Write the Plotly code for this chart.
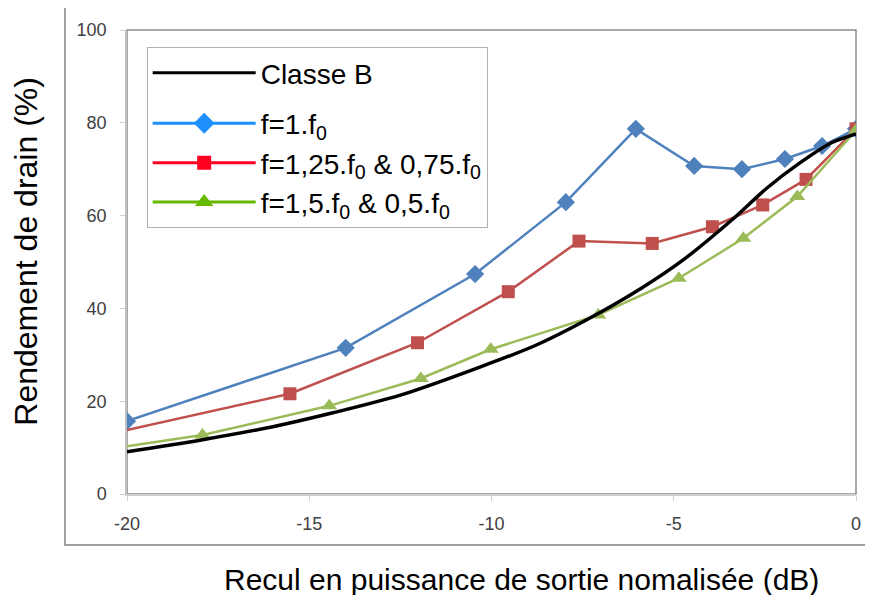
import plotly.graph_objects as go

# Classe B (theoretical curve)
classe_b_x = [-20, -18.0, -16.0, -14.35, -12.5, -10.3, -8.8, -7.4, -5.9, -4.75, -3.4, -2.45, -1.55, -0.7, 0]
classe_b_y = [9.1, 11.6, 14.5, 17.5, 21.3, 27.4, 32.0, 37.5, 44.3, 50.4, 59.1, 65.9, 71.3, 75.6, 77.6]

# f = 1.f0
f1_x = [-20, -14.0, -10.45, -7.96, -6.04, -4.44, -3.13, -1.95, -0.93, 0]
f1_y = [15.7, 31.5, 47.4, 62.9, 78.7, 70.7, 70.0, 72.2, 75.0, 78.7]

# f = 1,25.f0 & 0,75.f0
f125_x = [-20, -15.53, -12.03, -9.54, -7.60, -5.59, -3.94, -2.56, -1.37, 0]
f125_y = [13.8, 21.6, 32.6, 43.6, 54.5, 54.0, 57.6, 62.3, 67.8, 78.7]

# f = 1,5.f0 & 0,5.f0
f15_x = [-20, -17.93, -14.45, -11.94, -10.02, -7.07, -4.86, -3.09, -1.61, 0]
f15_y = [10.3, 12.7, 19.0, 24.9, 31.2, 38.6, 46.5, 55.1, 64.1, 78.4]

x_ticks = [-20, -15, -10, -5, 0]
x_labels = ['-20', '-15', '-10', '-5', '0']
y_ticks = [0, 20, 40, 60, 80, 100]

font_family = "Liberation Sans, Arial, sans-serif"

fig = go.Figure()

# plotted series (colors as in the chart body)
fig.add_trace(go.Scatter(x=f1_x, y=f1_y, mode='lines+markers', showlegend=False,
                         line=dict(color='#4F81BD', width=2.5),
                         marker=dict(symbol='diamond', size=14, color='#4F81BD', opacity=1)))
fig.add_trace(go.Scatter(x=f125_x, y=f125_y, mode='lines+markers', showlegend=False,
                         line=dict(color='#C0504D', width=2.5),
                         marker=dict(symbol='square', size=[0] + [13] * (len(f125_x) - 1),
                                     color='#C0504D', opacity=1, line=dict(width=0))))
fig.add_trace(go.Scatter(x=f15_x, y=f15_y, mode='lines+markers', showlegend=False,
                         line=dict(color='#9BBB59', width=2.5),
                         marker=dict(symbol='triangle-up', size=[0] + [14] * (len(f15_x) - 1),
                                     color='#9BBB59', opacity=1, line=dict(width=0))))
fig.add_trace(go.Scatter(x=classe_b_x, y=classe_b_y, mode='lines', showlegend=False,
                         line=dict(color='black', width=3.5, shape='spline', smoothing=0.8)))

# legend entries (brighter colors, as in the original legend)
fig.add_trace(go.Scatter(x=[None], y=[None], mode='lines', name='Classe B', legendgroup='b',
                         line=dict(color='black', width=3)))
fig.add_trace(go.Scatter(x=[None], y=[None], mode='lines+markers', name='f=1.f<sub>0</sub>', legendgroup='f',
                         line=dict(color='#1E8FFF', width=3),
                         marker=dict(symbol='diamond', size=17, color='#1E8FFF')))
fig.add_trace(go.Scatter(x=[None], y=[None], mode='lines+markers', name='f=1,25.f<sub>0</sub> &amp; 0,75.f<sub>0</sub>',
                         legendgroup='f', line=dict(color='#FF0022', width=3),
                         marker=dict(symbol='square', size=14, color='#FF0022')))
fig.add_trace(go.Scatter(x=[None], y=[None], mode='lines+markers', name='f=1,5.f<sub>0</sub> &amp; 0,5.f<sub>0</sub>',
                         legendgroup='f', line=dict(color='#66B800', width=3),
                         marker=dict(symbol='triangle-up', size=16, color='#66B800')))

# the page body has an 8px margin: size and margins compensate for it
fig.update_layout(
    width=865, height=587,
    margin=dict(l=119, r=17, t=22, b=101),
    paper_bgcolor='white', plot_bgcolor='white',
    font=dict(family=font_family, color='black'),
    showlegend=True,
    legend=dict(x=0.027, y=0.963, xanchor='left', yanchor='top',
                bgcolor='white', bordercolor='#B0B0B0', borderwidth=1,
                font=dict(size=28, color='black'), itemwidth=103,
                tracegroupgap=11, groupclick='toggleitem'),
    shapes=[
        # outer chart frame
        dict(type='rect', xref='paper', yref='paper', x0=-0.085, x1=1.1, y0=-0.11, y1=1.0496,
             line=dict(color='#A0A0A0', width=2), layer='below'),
        # plot area border
        dict(type='rect', xref='paper', yref='paper', x0=0, x1=1, y0=0, y1=1,
             line=dict(color='#8C8C8C', width=1.5), layer='below'),
    ],
    annotations=[
        dict(text='Rendement de drain (%)', xref='paper', yref='paper', x=-0.138, y=0.523,
             xanchor='center', yanchor='middle',
             textangle=-90, showarrow=False, font=dict(size=32, color='black')),
        dict(text='Recul en puissance de sortie nomalisée (dB)', xref='paper', yref='paper',
             x=0.541, y=-0.185, xanchor='center', yanchor='middle',
             showarrow=False, font=dict(size=30, color='black')),
    ],
)

fig.update_xaxes(range=[-20, 0], tickvals=x_ticks, ticktext=x_labels, showgrid=False, zeroline=False,
                 showline=True, linecolor='#D0D0D0', linewidth=1.5,
                 ticks='outside', ticklen=5, tickcolor='#D0D0D0',
                 tickfont=dict(size=18, color='#404040'), ticklabelstandoff=8)
fig.update_yaxes(range=[0, 100], tickvals=y_ticks, showgrid=False, zeroline=False,
                 showline=True, linecolor='#C0C0C0', linewidth=1.5,
                 ticks='outside', ticklen=5, tickcolor='#D0D0D0',
                 tickfont=dict(size=18, color='#404040'), ticklabelstandoff=10)

fig.write_html("out.html")
